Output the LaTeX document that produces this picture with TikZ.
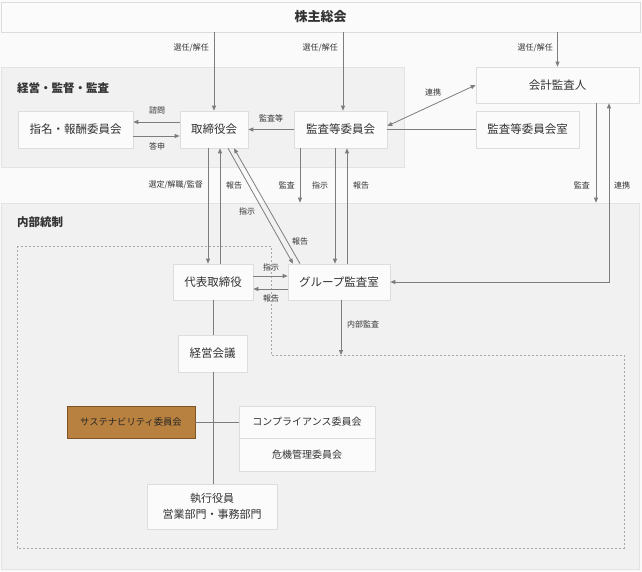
\documentclass[tikz,border=0pt]{standalone}
\usepackage{fontspec}
\setmainfont{Noto Sans CJK JP}
\usetikzlibrary{arrows.meta,calc}
\definecolor{bgc}{HTML}{FAFAFA}
\definecolor{secc}{HTML}{F2F1F1}
\definecolor{secb}{HTML}{E3E3E3}
\definecolor{boxc}{HTML}{FBFBFB}
\definecolor{boxb}{HTML}{DDDDDD}
\definecolor{txt}{HTML}{333333}
\definecolor{linec}{HTML}{7D7D7D}
\definecolor{dashc}{HTML}{A8A8A8}
\definecolor{susf}{HTML}{B8813F}
\definecolor{susb}{HTML}{7E5426}
\tikzset{
  secbox/.style={draw=secb, fill=secc, line width=0.6pt},
  box/.style={draw=boxb, fill=boxc, line width=0.6pt, inner sep=0pt, text=txt, font=\fontsize{11.5}{13}\selectfont, align=center},
  lbl/.style={text=txt, font=\fontsize{8}{9}\selectfont, inner sep=0pt},
  ttl/.style={text=txt, font=\bfseries\fontsize{11.5}{13}\selectfont, inner sep=0pt, anchor=west},
  conn/.style={draw=linec, line width=0.8pt},
  arr/.style={conn, -{Triangle[length=5pt,width=4pt]}},
  darr/.style={conn, {Triangle[length=5pt,width=4pt]}-{Triangle[length=5pt,width=4pt]}},
}
\begin{document}
\begin{tikzpicture}[x=1pt,y=-1pt]
\useasboundingbox[fill=bgc] (0,0) rectangle (642,572);
% sections
\node[secbox, minimum width=403pt, minimum height=100pt, inner sep=0pt] (secA) at (202.5,117) {};
\node[secbox, minimum width=638pt, minimum height=366pt, inner sep=0pt] (secB) at (320,386) {};
\node[ttl] (ttlA) at (17,88) {経営・監督・監査};
\node[ttl] (ttlB) at (17,222) {内部統制};
% dashed frame
\coordinate (d1) at (17,246);
\coordinate (d2) at (271,246);
\coordinate (d3) at (271,355);
\coordinate (d4) at (624,355);
\coordinate (d5) at (624,548);
\coordinate (d6) at (17,548);
\draw[draw=dashc, line width=0.6pt, dash pattern=on 2pt off 2pt] (d1) -- (d2) -- (d3) -- (d4) -- (d5) -- (d6) -- cycle;
% nodes
\node[box, minimum width=639pt, minimum height=30pt, font=\bfseries\fontsize{13}{15}\selectfont] (sh) at (320.5,17) {株主総会};
\node[box, minimum width=115pt, minimum height=37pt] (shimei) at (75.5,129.5) {指名・報酬委員会};
\node[box, minimum width=68pt, minimum height=37pt] (tori) at (214,129.5) {取締役会};
\node[box, minimum width=93pt, minimum height=37pt] (kansa) at (340.5,129.5) {監査等委員会};
\node[box, minimum width=163pt, minimum height=36pt] (kaikei) at (557.5,85) {会計監査人};
\node[box, minimum width=103pt, minimum height=37pt] (kshitsu) at (527.5,129.5) {監査等委員会室};
\node[box, minimum width=80pt, minimum height=36pt] (daihyo) at (213,282) {代表取締役};
\node[box, minimum width=102pt, minimum height=36pt] (group) at (339,282) {グループ監査室};
\node[box, minimum width=69pt, minimum height=37pt] (keiei) at (212.5,353.5) {経営会議};
\node[box, minimum width=128pt, minimum height=32pt, draw=susb, fill=susf, text=black!85, font=\fontsize{9.3}{11}\selectfont] (sus) at (131,422) {サステナビリティ委員会};
\node[box, minimum width=136pt, minimum height=32pt, font=\fontsize{10}{12}\selectfont] (comp) at (307,422) {コンプライアンス委員会};
\node[box, minimum width=136pt, minimum height=33pt, font=\fontsize{10}{12}\selectfont] (kiki) at (307,454.5) {危機管理委員会};
\node[box, minimum width=130pt, minimum height=45pt, font=\fontsize{11}{16}\selectfont] (shikko) at (212,506.5) {執行役員\\営業部門・事務部門};
% from shareholders
\draw[arr] (sh.south -| tori.north) -- (tori.north);
\draw[arr] (sh.south -| 343,0) -- (kansa.north -| 343,0);
\draw[arr] (sh.south -| kaikei.north) -- (kaikei.north);
\node[lbl, anchor=east] (l1) at (209,48) {選任/解任};
\node[lbl, anchor=east] (l2) at (338,48) {選任/解任};
\node[lbl, anchor=east] (l3) at (553,48) {選任/解任};
% board level
\draw[arr] (tori.west |- 0,122) -- (shimei.east |- 0,122);
\draw[arr] (shimei.east |- 0,136) -- (tori.west |- 0,136);
\node[lbl] (l4) at (157,110) {諮問};
\node[lbl] (l5) at (157,146) {答申};
\draw[arr] (kansa.west) -- (tori.east);
\node[lbl] (l6) at (271,118) {監査等};
\draw[conn] (kshitsu.west) -- (kansa.east);
\draw[darr] (kansa.east |- 0,126) -- (kaikei.west);
\node[lbl] (l7) at (433,92) {連携};
% accounting auditor
\coordinate (c1) at (609,282);
\draw[arr] (kaikei.south -| 596,0) -- (596,0 |- secB.north);
\draw[darr] (kaikei.south -| c1) -- (c1) -- (group.east);
\node[lbl, anchor=east] (l8) at (590,185) {監査};
\node[lbl, anchor=west] (l9) at (614,185) {連携};
% board to representative
\draw[arr] (tori.south -| 208,0) -- (daihyo.north -| 208,0);
\draw[arr] (daihyo.north -| 220,0) -- (tori.south -| 220,0);
\node[lbl, anchor=east] (l10) at (203,185) {選定/解職/監督};
\node[lbl] (l11) at (234,185) {報告};
% diagonal
\draw[arr] (tori.south -| 228,0) -- (group.north -| 293,0);
\draw[arr] (group.north -| 300,0) -- (tori.south -| 234,0);
\node[lbl] (l12) at (247,211) {指示};
\node[lbl] (l13) at (300,241) {報告};
% audit committee down
\draw[arr] (kansa.south -| 300,0) -- (300,0 |- secB.north);
\draw[arr] (kansa.south -| 335,0) -- (group.north -| 335,0);
\draw[arr] (group.north -| 347,0) -- (kansa.south -| 347,0);
\node[lbl, anchor=east] (l14) at (295,185) {監査};
\node[lbl] (l15) at (320,185) {指示};
\node[lbl] (l16) at (361,185) {報告};
% representative <-> group
\draw[arr] (daihyo.east |- 0,276) -- (group.west |- 0,276);
\draw[arr] (group.west |- 0,289) -- (daihyo.east |- 0,289);
\node[lbl] (l17) at (271,267) {指示};
\node[lbl] (l18) at (271,298) {報告};
\coordinate (ia) at (341,355);
\draw[arr] (group.south -| ia) -- (ia);
\node[lbl] (l19) at (363,324) {内部監査};
% executive chain
\draw[conn] (daihyo.south) -- (keiei.north -| daihyo.south);
\draw[conn] (keiei.south -| daihyo.south) -- (shikko.north -| daihyo.south);
\draw[conn] (sus.east) -- (comp.west);
\end{tikzpicture}
\end{document}
